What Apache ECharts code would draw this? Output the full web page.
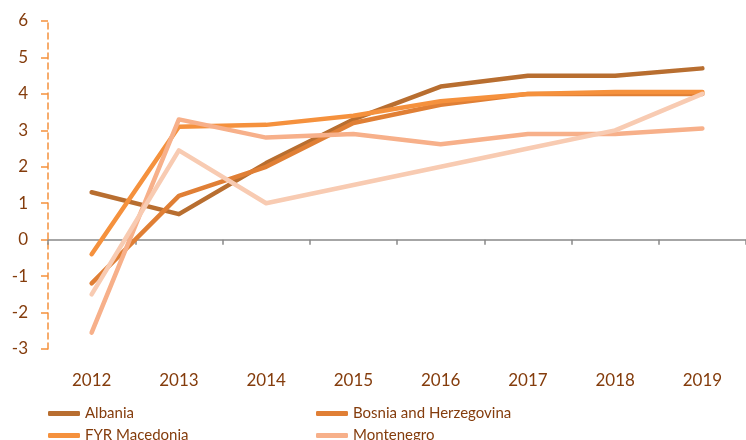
<!DOCTYPE html>
<html>
<head>
<meta charset="utf-8">
<script src="https://cdn.jsdelivr.net/npm/echarts@6/dist/echarts.min.js"></script>
<style>
  html, body { margin: 0; padding: 0; background: #fff; }
  #chart { width: 746px; height: 440px; }
</style>
</head>
<body>
<div id="chart"></div>
<script>
    // data
    var years = ["2012", "2013", "2014", "2015", "2016", "2017", "2018", "2019"];
    var albania = [1.3, 0.7, 2.1, 3.3, 4.2, 4.5, 4.5, 4.7];
    var bosnia = [-1.2, 1.2, 2.0, 3.2, 3.7, 4.0, 4.0, 4.0];
    var macedonia = [-0.4, 3.1, 3.15, 3.4, 3.8, 4.0, 4.05, 4.05];
    var montenegro = [-2.55, 3.3, 2.8, 2.9, 2.62, 2.9, 2.9, 3.05];
    var serbia = [-1.5, 2.45, 1.0, 1.5, 2.0, 2.5, 3.0, 4.0];

    var textCol = "#843c0c";
    var font = "Lato";

    function line(name, data, color){
        return {
            name: name,
            type: 'line',
            data: data,
            showSymbol: false,
            symbol: 'none',
            lineStyle: { color: color, width: 4.5, cap: 'round', join: 'round' },
            itemStyle: { color: color },
            z: 3
        };
    }
    function legendAt(name, left, top){
        return {
            left: left, top: top, orient: 'horizontal',
            itemWidth: 32, itemHeight: 5,
            icon: 'roundRect',
            textStyle: { color: textCol, fontFamily: font, fontSize: 15 },
            data: [name]
        };
    }

    var dom = document.getElementById("chart");
    var myChart = echarts.init(dom);
    var option = {
        animation: false,
        grid: { left: 48, top: 21, width: 704, height: 328 },
        legend: [
            legendAt('Albania', 43, 401),
            legendAt('FYR Macedonia', 43, 423),
            legendAt('Bosnia and Herzegovina', 311, 401),
            legendAt('Montenegro', 311, 423)
        ],
        xAxis: [{
            type: 'category',
            data: years,
            boundaryGap: true,
            position: 'bottom',
            axisLine: { show: false, onZero: false },
            axisTick: { show: false },
            axisLabel: { color: textCol, fontFamily: font, fontSize: 17, margin: 23 }
        }, {
            type: 'category',
            data: years,
            boundaryGap: true,
            position: 'bottom',
            axisLine: { show: true, onZero: true, lineStyle: { color: '#898989', width: 1.5 } },
            axisTick: { show: true, length: 5, lineStyle: { color: '#898989', width: 1.5 } },
            axisLabel: { show: false }
        }],
        yAxis: {
            type: 'value',
            min: -3, max: 6, interval: 1,
            axisLine: { show: true, lineStyle: { color: '#f5913d', width: 1.5, type: [6, 4] } },
            axisTick: { show: true, length: 7, lineStyle: { color: '#f5913d', width: 1.5 } },
            axisLabel: { color: textCol, fontFamily: font, fontSize: 17, margin: 20 },
            splitLine: { show: false }
        },
        series: [
            line('Albania', albania, '#b86e30'),
            line('Bosnia and Herzegovina', bosnia, '#e07f35'),
            line('FYR Macedonia', macedonia, '#f5913d'),
            line('Montenegro', montenegro, '#f7b08a'),
            line('Serbia', serbia, '#f8cbb2')
        ]
    };
    myChart.setOption(option);
</script>
</body>
</html>
